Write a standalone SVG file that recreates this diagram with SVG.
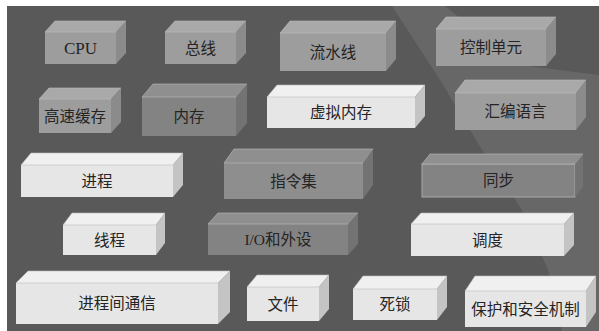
<svg xmlns="http://www.w3.org/2000/svg" width="599" height="331" viewBox="0 0 599 331">
<style>
text{font-family:"Liberation Serif","Noto Sans CJK SC",serif;font-size:15.5px;fill:#242424;text-anchor:middle;dominant-baseline:central}
.lat{font-size:17px}
.lt .f{fill:#e6e6e6}.lt .t{fill:#f0f0f0}.lt .s{fill:#c4c4c4}
.md .f{fill:#9d9d9d}.md .t{fill:#a9a9a9}.md .s{fill:#8b8b8b}
.dk .f{fill:#838383}.dk .t{fill:#8f8f8f}.dk .s{fill:#737373}
.t{stroke:#bdbdbd;stroke-width:0.6}
.ol .f{stroke:#a8a8a8;stroke-width:1}
</style>
<rect x="0" y="0" width="599" height="331" fill="#ffffff"/>
<rect x="7" y="6" width="592" height="325" fill="#595959"/>
<polygon points="392,6 445,6 520,65 599,75 599,331 562,331 548,270 522,210 482,150 440,80" fill="#737373" opacity="0.55"/>
<g id="cpu" class="md"><rect class="f" x="45" y="32" width="71" height="32"/><polygon class="t" points="45,32 55,21 126,21 116,32"/><polygon class="s" points="116,32 126,21 126,53 116,64"/><text class="lat" x="80.5" y="48">CPU</text></g>
<g id="bus" class="md"><rect class="f" x="165" y="32" width="71" height="32"/><polygon class="t" points="165,32 175,21 246,21 236,32"/><polygon class="s" points="236,32 246,21 246,53 236,64"/><text x="200.5" y="48">总线</text></g>
<g id="pipeline" class="md"><rect class="f" x="280" y="33" width="106" height="38"/><polygon class="t" points="280,33 290,21 396,21 386,33"/><polygon class="s" points="386,33 396,21 396,59 386,71"/><text x="333" y="52">流水线</text></g>
<g id="control" class="md"><rect class="f" x="436" y="29" width="110" height="37"/><polygon class="t" points="436,29 446,17 556,17 546,29"/><polygon class="s" points="546,29 556,17 556,54 546,66"/><text x="491" y="47.5">控制单元</text></g>
<g id="cache" class="md"><rect class="f" x="39" y="99" width="72" height="34"/><polygon class="t" points="39,99 49,88 121,88 111,99"/><polygon class="s" points="111,99 121,88 121,122 111,133"/><text x="75" y="116">高速缓存</text></g>
<g id="memory" class="dk"><rect class="f" x="142" y="97" width="94" height="39"/><polygon class="t" points="142,97 153,84 247,84 236,97"/><polygon class="s" points="236,97 247,84 247,123 236,136"/><text x="189" y="116.5">内存</text></g>
<g id="vmem" class="lt"><rect class="f" x="267" y="97" width="148" height="31"/><polygon class="t" points="267,97 277,85 425,85 415,97"/><polygon class="s" points="415,97 425,85 425,116 415,128"/><text x="341" y="112.5">虚拟内存</text></g>
<g id="asm" class="md"><rect class="f" x="455" y="93" width="121" height="37"/><polygon class="t" points="455,93 465,80 586,80 576,93"/><polygon class="s" points="576,93 586,80 586,117 576,130"/><text x="515.5" y="111.5">汇编语言</text></g>
<g id="process" class="lt"><rect class="f" x="21" y="165" width="152" height="32"/><polygon class="t" points="21,165 31,153 183,153 173,165"/><polygon class="s" points="173,165 183,153 183,185 173,197"/><text x="97" y="181">进程</text></g>
<g id="isa" class="dk"><rect class="f" x="224" y="163" width="139" height="36" style="fill:#8e8e8e"/><polygon class="t" points="224,163 234,149 373,149 363,163"/><polygon class="s" points="363,163 373,149 373,185 363,199"/><text x="293.5" y="181">指令集</text></g>
<g id="sync" class="dk ol"><rect class="f" x="422" y="164" width="153" height="33"/><polygon class="t" points="422,164 430,154 583,154 575,164"/><polygon class="s" points="575,164 583,154 583,187 575,197"/><text x="498.5" y="180.5">同步</text></g>
<g id="thread" class="lt"><rect class="f" x="63" y="225" width="93" height="30"/><polygon class="t" points="63,225 72,213 165,213 156,225"/><polygon class="s" points="156,225 165,213 165,243 156,255"/><text x="109.5" y="240">线程</text></g>
<g id="io" class="dk"><rect class="f" x="208" y="224" width="140" height="31"/><polygon class="t" points="208,224 218,213 358,213 348,224"/><polygon class="s" points="348,224 358,213 358,244 348,255"/><text x="278" y="239.5">I/O和外设</text></g>
<g id="sched" class="lt"><rect class="f" x="411" y="224" width="153" height="32"/><polygon class="t" points="411,224 421,213 574,213 564,224"/><polygon class="s" points="564,224 574,213 574,245 564,256"/><text x="487.5" y="240">调度</text></g>
<g id="ipc" class="lt"><rect class="f" x="16" y="283" width="202" height="41"/><polygon class="t" points="16,283 28,271 230,271 218,283"/><polygon class="s" points="218,283 230,271 230,312 218,324"/><text x="117" y="303.5">进程间通信</text></g>
<g id="file" class="lt"><rect class="f" x="247" y="287" width="72" height="34"/><polygon class="t" points="247,287 257,275 329,275 319,287"/><polygon class="s" points="319,287 329,275 329,309 319,321"/><text x="283" y="304">文件</text></g>
<g id="deadlock" class="lt"><rect class="f" x="353" y="289" width="84" height="31"/><polygon class="t" points="353,289 363,276 447,276 437,289"/><polygon class="s" points="437,289 447,276 447,307 437,320"/><text x="395" y="304.5">死锁</text></g>
<g id="security" class="lt"><rect class="f" x="465" y="291" width="121" height="36"/><polygon class="t" points="465,291 475,276 596,276 586,291"/><polygon class="s" points="586,291 596,276 596,312 586,327"/><text x="525.5" y="309">保护和安全机制</text></g>
<g id="connectors"></g>
</svg>
